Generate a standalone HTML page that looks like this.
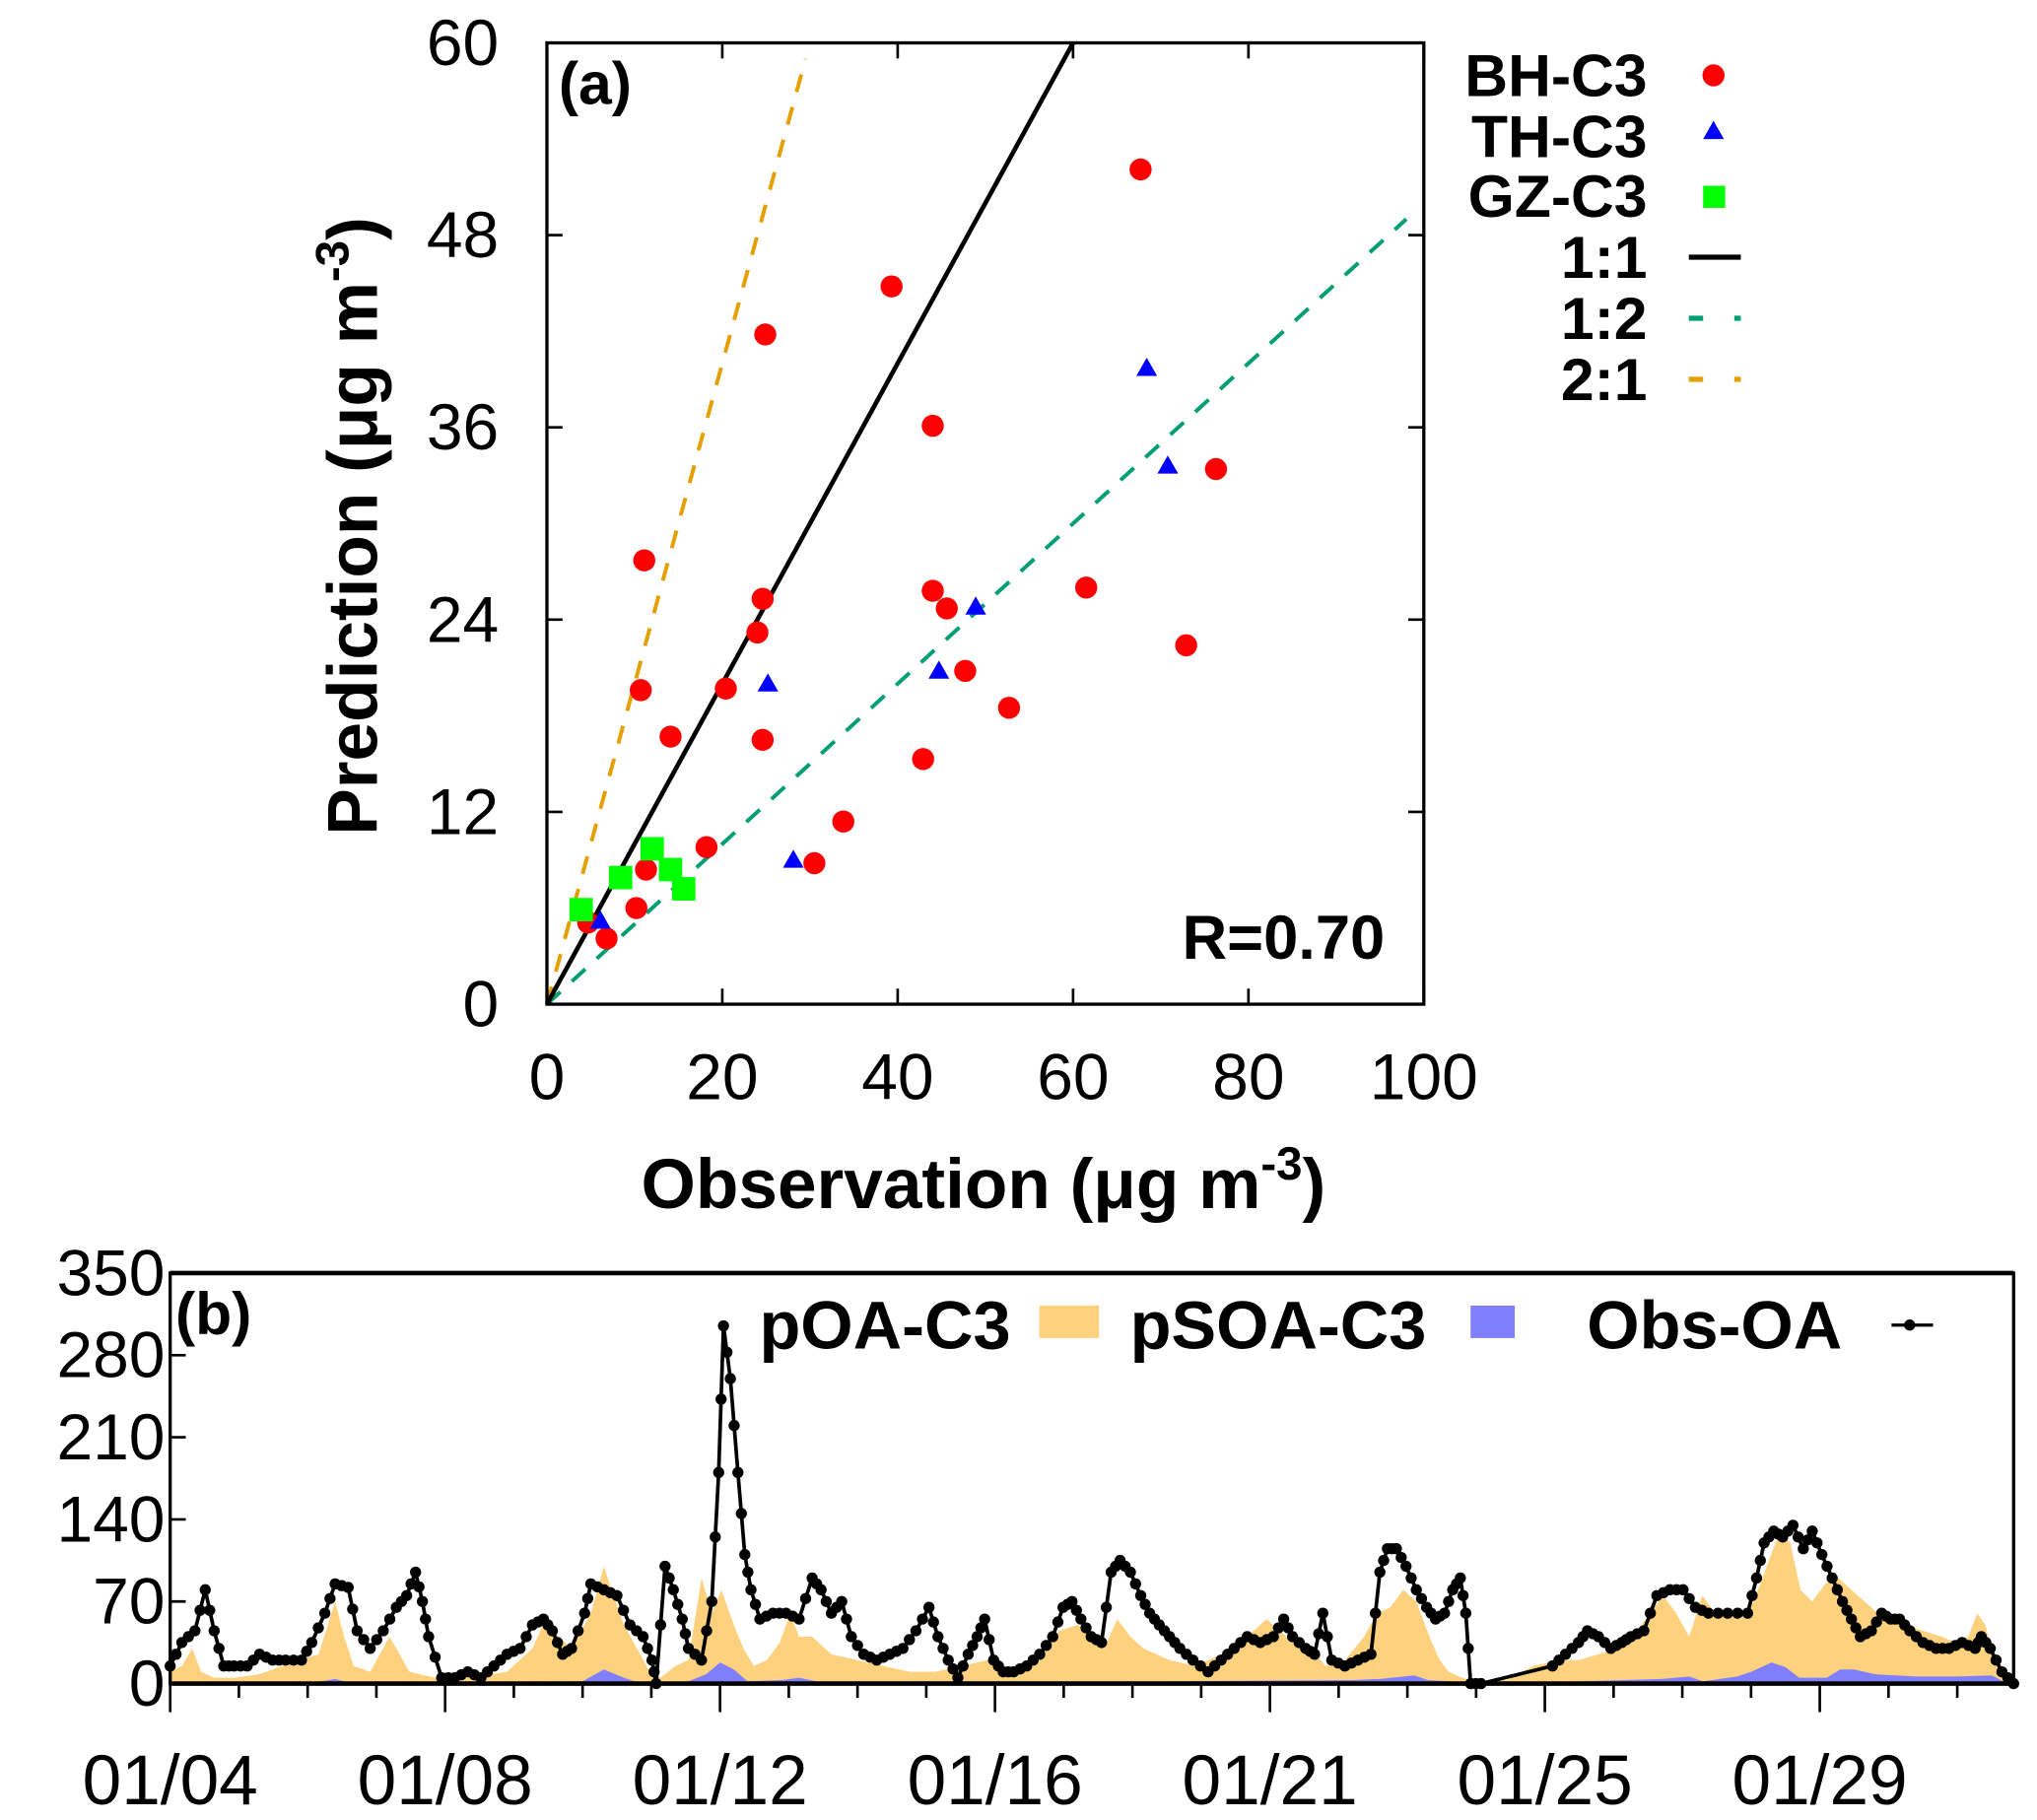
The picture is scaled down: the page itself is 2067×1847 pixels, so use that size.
<!DOCTYPE html>
<html><head><meta charset="utf-8"><style>
html,body{margin:0;padding:0;background:#fff;}
svg{display:block;font-family:"Liberation Sans",sans-serif;}
</style></head><body>
<svg id="fig" width="2067" height="1847" viewBox="0 0 1568 1401" preserveAspectRatio="none" xmlns="http://www.w3.org/2000/svg">
<rect width="1568" height="1401" fill="#fff"/>
<g id="pa"></g>
<g id="pb"></g>
</svg>
<script>
// ---------- Panel (a) data ----------
const bhObs = [67.7,39.3,24.9,44.0,76.3,11.1,61.5,44.0,45.6,24.6,24.0,72.9,47.7,10.7,20.4,52.7,14.1,24.6,42.9,33.8,18.2,30.5,11.3,10.2,4.7,6.8];
const bhPred = [52.1,44.8,41.8,36.1,33.4,27.7,26.0,25.8,24.7,25.3,23.2,22.4,20.8,19.6,19.7,18.5,16.7,16.5,15.3,11.4,9.8,8.8,8.4,6.0,5.1,4.1];
const thObs = [68.4,70.8,48.9,44.7,25.2,28.1,6.1];
const thPred = [39.7,33.6,24.8,20.8,20.0,9.0,5.2];
const gzObs = [3.9,8.4,12.0,14.1,15.6];
const gzPred = [5.9,7.9,9.7,8.4,7.2];
const aXTicks = [0,20,40,60,80,100];
const aYTicks = [0,12,24,36,48,60];
const rText = "R=0.70";

// ---------- Panel (b) data ----------
const obsDay = [0,.17,.36,.51,.64,.78,.93,1.12,1.30,1.49,1.68,1.91,2.06,2.25,2.40,2.59,2.72,2.91,3.10,3.29,3.44,3.57,3.67,3.76,3.95,4.14,4.33,4.52,4.71,4.90,5.09,5.27,5.43,5.56,5.71,5.84,6.03,6.12,6.31,6.50,6.69,6.88,7.01,7.07,7.20,7.32,7.45,7.54,7.73,7.88,7.98,8.05,8.15,8.26,8.36,8.45,8.58,8.77,8.96,9.15,9.34,9.47,9.62,9.77,9.91,10.09,10.28,10.47,10.66,10.85,11.04,11.17,11.32,11.46,11.61,11.74,11.85,11.98,12.12,12.27,12.46,12.65,12.84,12.99,13.12,13.25,13.40,13.55,13.69,13.82,13.97,14.12,14.25,14.39,14.54,14.69,14.88,15.10,15.29,15.48,15.67,15.86,16.05,16.20,16.33,16.52,16.65,16.77,16.90,17.09,17.28,17.47,17.60,17.71,17.84,17.98,18.13,18.28,18.41,18.54,18.66,18.77,18.85,18.92,19.07,20.11,20.30,20.49,20.62,20.78,20.96,21.12,21.25,21.44,21.63,21.82,22.01,22.19,22.38,22.66,22.95,23.08,23.19,23.33,23.46,23.61,23.76,23.89,24.03,24.18,24.33,24.46,24.59,24.75,24.90,25.03,25.16,25.31,25.50,25.69,25.88,26.07,26.26,26.35,26.48,26.65,26.82];
const obsVal = [15,35,45,80,45,15,15,15,25,20,20,20,35,60,85,82,45,30,45,65,75,95,70,40,5,5,10,5,15,25,30,50,55,45,25,30,60,85,80,75,50,40,20,0,100,80,55,30,20,70,180,305,260,180,110,80,55,60,60,55,90,80,60,70,40,25,20,25,30,45,65,40,20,5,25,40,55,20,10,10,15,25,40,65,70,55,40,35,95,105,95,75,60,50,40,30,20,10,20,30,40,35,40,55,40,30,25,60,20,15,20,25,95,115,115,100,80,65,55,60,80,90,60,0,0,15,25,35,45,40,30,35,40,45,75,80,80,65,60,60,60,90,120,130,125,135,115,130,110,90,70,55,40,45,60,55,55,45,35,30,30,35,30,40,30,10,0];
const soaDay = [0,.17,.32,.45,.64,.93,1.30,1.87,2.16,2.40,2.53,2.67,2.91,3.19,3.29,3.48,3.86,4.33,4.90,5.27,5.46,5.65,5.84,6.12,6.31,6.45,6.60,6.79,6.98,7.13,7.35,7.54,7.73,7.88,8.02,8.11,8.20,8.34,8.49,8.68,8.87,9.02,9.15,9.34,9.62,10.0,10.38,10.76,11.13,11.51,11.89,12.27,12.65,12.93,13.21,13.40,13.59,13.78,13.97,14.16,14.54,14.92,15.29,15.67,15.95,16.24,16.52,16.81,17.09,17.37,17.56,17.75,17.94,18.13,18.32,18.47,18.60,18.79,18.98,19.45,19.83,20.21,20.49,20.78,21.06,21.34,21.53,21.72,21.91,22.10,22.29,22.48,22.67,22.85,23.04,23.23,23.42,23.57,23.72,23.89,24.08,24.27,24.46,24.65,24.84,25.03,25.22,25.50,25.78,25.97,26.16,26.29,26.41,26.54,26.73,26.82];
const soaVal = [10,15,30,10,5,5,8,20,25,70,40,15,10,40,30,10,5,5,10,30,55,40,30,60,100,75,50,30,10,5,15,20,90,60,80,65,50,30,15,20,35,60,40,40,25,20,15,10,10,15,20,5,20,45,50,40,30,55,40,30,20,15,25,40,55,40,35,15,20,40,60,65,80,70,40,20,10,5,2,3,15,20,20,25,30,45,60,75,60,40,75,60,60,55,70,100,130,120,80,70,85,90,80,70,60,55,50,45,40,35,40,60,50,20,5,0];
const poaDay = [0,2.1,2.4,2.6,6.0,6.31,6.6,6.8,7.5,7.8,8.0,8.2,8.4,8.9,9.15,9.4,11.9,13.5,14.5,17.2,17.6,18.1,18.3,18.9,20,21.7,22.1,22.3,22.8,23.0,23.3,23.5,23.7,24.1,24.3,24.5,24.8,25.4,26.0,26.5,26.7,26.82];
const poaVal = [1,1,4,1,2,12,5,1,1,8,18,12,2,3,5,2,2,2,2,3,4,7,3,1,1,4,6,2,6,10,18,14,5,5,12,12,8,6,6,7,1,0];
const bYTicks = [0,70,140,210,280,350];
const dateLabels = ["01/04","01/08","01/12","01/16","01/21","01/25","01/29"];
const dateTickDays = [0,4,8,12,16,20,24];
const minorTickDays = [1,2,3,5,6,7,9,10,11,13,14,15,17,18,19,21,22,23,25,26];

const NS="http://www.w3.org/2000/svg";
function mk(tag, attrs, parent){const e=document.createElementNS(NS,tag);for(const k in attrs)e.setAttribute(k,attrs[k]);parent.appendChild(e);return e;}

// ----- Panel A -----
const A={x0:421,x1:1096,y0:773,y1:33};
const ax=v=>A.x0+(v-0)/100*(A.x1-A.x0);
const ay=v=>A.y0-(v/60)*(A.y0-A.y1);
const pa=document.getElementById('pa');
const l21=mk('line',{x1:ax(0),y1:ay(0),x2:ax(29.5),y2:ay(59),stroke:'#e69f00','stroke-width':3,'stroke-dasharray':'14,12'},pa);


const l12=mk('line',{x1:ax(0),y1:ay(0),x2:ax(98),y2:ay(49),stroke:'#009e73','stroke-width':3,'stroke-dasharray':'14,12'},pa);


const l11=mk('line',{x1:ax(0),y1:ay(0),x2:ax(60),y2:ay(60),stroke:'#000','stroke-width':3.5},pa);


bhObs.forEach((o,i)=>{const c=mk('circle',{cx:ax(o),cy:ay(bhPred[i]),r:8.5,fill:'#ff0000'},pa);

});
thObs.forEach((o,i)=>{const x=ax(o),y=ay(thPred[i]);const t=mk('polygon',{points:`${x},${y-8} ${x-8},${y+6} ${x+8},${y+6}`,fill:'#0000ff'},pa);

});
gzObs.forEach((o,i)=>{const x=ax(o),y=ay(gzPred[i]);const s=mk('rect',{x:x-9,y:y-9,width:18,height:18,fill:'#00ff00'},pa);

});
const fa=mk('rect',{x:A.x0,y:A.y1,width:A.x1-A.x0,height:A.y0-A.y1,fill:'none',stroke:'#000','stroke-width':2.5},pa);


aXTicks.forEach(v=>{const x=ax(v);
mk('line',{x1:x,y1:A.y0,x2:x,y2:A.y0-12,stroke:'#000','stroke-width':2},pa);
mk('line',{x1:x,y1:A.y1,x2:x,y2:A.y1+12,stroke:'#000','stroke-width':2},pa);
const t=mk('text',{x:x,y:846,'font-size':50,'text-anchor':'middle'},pa);t.textContent=v;

});
aYTicks.forEach(v=>{const y=ay(v);
mk('line',{x1:A.x0,y1:y,x2:A.x0+12,y2:y,stroke:'#000','stroke-width':2},pa);
mk('line',{x1:A.x1,y1:y,x2:A.x1-12,y2:y,stroke:'#000','stroke-width':2},pa);
const t=mk('text',{x:384,y:y+17,'font-size':50,'text-anchor':'end'},pa);t.textContent=v;

});
const rl=mk('text',{x:1066,y:738,'font-size':48,'font-weight':'bold','text-anchor':'end'},pa);rl.textContent=rText;


const pal=mk('text',{x:430,y:80,'font-size':46,'font-weight':'bold'},pa);pal.textContent='(a)';


</script>
<script>
(function(){
const pa=document.getElementById('pa');
pa.insertAdjacentHTML('beforeend',`
<text x="757" y="930" font-size="54" font-weight="bold" text-anchor="middle">Observation (μg m<tspan dy="-22" font-size="36">-3</tspan><tspan dy="22">)</tspan></text>
<text transform="translate(290,405) rotate(-90)" font-size="54" font-weight="bold" text-anchor="middle">Prediction (μg m<tspan dy="-22" font-size="36">-3</tspan><tspan dy="22">)</tspan></text>
<g font-size="46" font-weight="bold" text-anchor="end">
<text x="1268" y="74">BH-C3</text>
<circle cx="1319" cy="58" r="8.5" fill="#ff0000"/>
<text x="1268" y="121">TH-C3</text>
<polygon points="1319,93 1311,107 1327,107" fill="#0000ff"/>
<text x="1268" y="167">GZ-C3</text>
<rect x="1311" y="143" width="17" height="17" fill="#00ff00"/>
<text x="1268" y="214">1:1</text>
<line x1="1300" y1="198" x2="1340" y2="198" stroke="#000" stroke-width="4"/>
<text x="1268" y="261">1:2</text>
<line x1="1300" y1="245" x2="1311" y2="245" stroke="#009e73" stroke-width="4"/><line x1="1335" y1="245" x2="1340" y2="245" stroke="#009e73" stroke-width="4"/>
<text x="1268" y="308">2:1</text>
<line x1="1300" y1="292" x2="1311" y2="292" stroke="#e69f00" stroke-width="4"/><line x1="1335" y1="292" x2="1340" y2="292" stroke="#e69f00" stroke-width="4"/>
</g>`);
})();
</script>
<script>
(function(){
const NS="http://www.w3.org/2000/svg";
function mk(tag, attrs, parent){const e=document.createElementNS(NS,tag);for(const k in attrs)e.setAttribute(k,attrs[k]);parent.appendChild(e);return e;}
const B={x0:131,x1:1550,y0:1296,y1:980,dmax:26.82};
const bx=d=>B.x0+d/B.dmax*(B.x1-B.x0);
const by=v=>B.y0-v/350*(B.y0-B.y1);
const pb=document.getElementById('pb');
function area(days,vals,color,name){
 let d=`M${bx(days[0])},${by(0)}`;
 days.forEach((t,i)=>{d+=` L${bx(t)},${by(vals[i])}`;});
 d+=` L${bx(days[days.length-1])},${by(0)} Z`;
 const p=mk('path',{d:d,fill:color},pb);
 
 
}
area(soaDay,soaVal,'#fdd17e','psoa-area');
area(poaDay,poaVal,'#7f7fff','poa-area');
let ld='';
obsDay.forEach((t,i)=>{ld+=(i?' L':'M')+bx(t)+','+by(obsVal[i]);});
const ol=mk('path',{d:ld,fill:'none',stroke:'#000','stroke-width':2.8},pb);


obsDay.forEach((t,i)=>{
 const c=mk('circle',{cx:bx(t),cy:by(obsVal[i]),r:4.3,fill:'#000'},pb);
 
 
 if(i<obsDay.length-1 && obsDay[i+1]-t<0.5){
  const c2=mk('circle',{cx:(bx(t)+bx(obsDay[i+1]))/2,cy:(by(obsVal[i])+by(obsVal[i+1]))/2,r:4.3,fill:'#000'},pb);
  
  
 }
});
const fb=mk('rect',{x:B.x0,y:B.y1,width:B.x1-B.x0,height:B.y0-B.y1,fill:'none',stroke:'#000','stroke-width':2.5},pb);


mk('line',{x1:B.x0,y1:B.y1,x2:B.x1,y2:B.y1,stroke:'#000','stroke-width':3.5},pb);
mk('line',{x1:B.x0,y1:B.y0,x2:B.x1,y2:B.y0,stroke:'#000','stroke-width':3.5},pb);
bYTicks.forEach(v=>{const y=by(v);
 mk('line',{x1:B.x0,y1:y,x2:B.x0+12,y2:y,stroke:'#000','stroke-width':2},pb);
 const t=mk('text',{x:127,y:y+17,'font-size':50,'text-anchor':'end'},pb);t.textContent=v;
 
 });
dateTickDays.forEach((d,i)=>{const x=bx(d);
 mk('line',{x1:x,y1:B.y0,x2:x,y2:B.y0+22,stroke:'#000','stroke-width':2},pb);
 const t=mk('text',{x:x,y:1389,'font-size':54,'text-anchor':'middle'},pb);t.textContent=dateLabels[i];
 
 });
minorTickDays.forEach(d=>{const x=bx(d);
 mk('line',{x1:x,y1:B.y0,x2:x,y2:B.y0+11,stroke:'#000','stroke-width':2},pb);});
pb.insertAdjacentHTML('beforeend',`
<text x="135" y="1027" font-size="46" font-weight="bold">(b)</text>
<g font-size="52" font-weight="bold" text-anchor="end">
<text x="778" y="1038">pOA-C3</text>
<rect x="800" y="1005" width="46" height="25" fill="#fdd17e"/>
<text x="1098" y="1038">pSOA-C3</text>
<rect x="1132" y="1005" width="34" height="25" fill="#7f7fff"/>
<text x="1418" y="1038">Obs-OA</text>
<line x1="1456" y1="1020" x2="1488" y2="1020" stroke="#000" stroke-width="2.5"/>
<circle cx="1470" cy="1020" r="4.3" fill="#000"/>
</g>`);
})();
</script>
</body></html>
